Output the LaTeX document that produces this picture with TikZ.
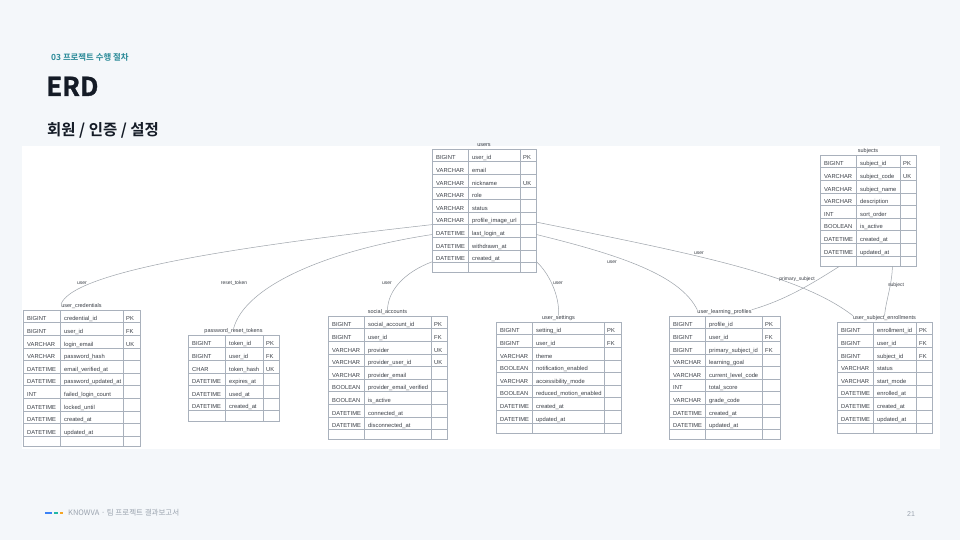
\documentclass[tikz,border=0pt]{standalone}
\usepackage{fontspec}
\setmainfont{Liberation Sans}
\newfontfamily\kr[BoldFont={Noto Sans CJK KR Bold}]{Noto Sans CJK KR}
\newfontfamily\krheavy[FakeBold=1.2]{Noto Sans CJK KR Bold}
\usetikzlibrary{calc}

\definecolor{slidebg}{HTML}{F4F7FA}
\definecolor{sectteal}{HTML}{2A8A98}
\definecolor{inkdark}{HTML}{141B26}
\definecolor{txtgray}{HTML}{3A3F47}
\definecolor{linegray}{HTML}{A9B1BC}
\definecolor{relgray}{HTML}{9DA3AA}
\definecolor{footgray}{HTML}{9AA3AE}
\definecolor{dashblue}{HTML}{3B82F6}
\definecolor{dashteal}{HTML}{22B8A6}
\definecolor{dashorange}{HTML}{F5A524}

\def\rh{12.6}
% one table: name, x of left / col1 / col2 / right, top, rows, title, fields
\newcommand{\erdtable}[9]{%
  \node[tblbox, minimum width={(#5-#2)*1pt}, minimum height={(#7+0.8)*\rh*1pt}] (#1box) at (#2,#6) {};
  \node[tbltitle] (#1) at ({(#2+#5)/2},#6-3.5) {#8};
  \draw[grid] (#3,#6) -- (#3,{#6+(#7+0.8)*\rh});
  \draw[grid] (#4,#6) -- (#4,{#6+(#7+0.8)*\rh});
  \foreach [count=\i] \ty/\fd/\ky in {#9} {
    \draw[grid] (#2,{#6+\i*\rh}) -- (#5,{#6+\i*\rh});
    \node[cell] (#1-\i-a) at (#2+4,{#6+\i*\rh-1.7}) {\ty};
    \node[cell] (#1-\i-b) at (#3+4,{#6+\i*\rh-1.7}) {\fd};
    \node[cell] (#1-\i-c) at (#4+3,{#6+\i*\rh-1.7}) {\ky};
  }%
}

\begin{document}
\begin{tikzpicture}[x=1pt, y=-1pt,
  tbltitle/.style = {font=\fontsize{5.5}{6}\selectfont, text=txtgray, inner sep=0pt},
  cell/.style = {font=\fontsize{5.8}{6}\selectfont, text=txtgray, inner sep=0pt, anchor=base west},
  tblbox/.style = {draw=linegray, line width=.5pt, fill=white, inner sep=0pt, anchor=north west},
  grid/.style = {draw=linegray, line width=.4pt},
  rel/.style = {draw=relgray, line width=.5pt},
  rellabel/.style = {font=\fontsize{5}{6}\selectfont, text=txtgray, inner sep=0pt}]
  \useasboundingbox (0,0) rectangle (960,540);
  \fill[slidebg] (0,0) rectangle (960,540);
  \fill[white] (22,146) rectangle (940,449);

  % header
  \node[anchor=base west, inner sep=0pt, text=sectteal, font=\kr\bfseries\fontsize{8.4}{9}\selectfont] (sect) at (51,61) {03 프로젝트 수행 절차};
  \node[anchor=base west, inner sep=0pt, text=inkdark, font=\krheavy\fontsize{26}{30}\selectfont] (erd) at (46,96) {ERD};
  \node[anchor=base west, inner sep=0pt, text=inkdark, font=\kr\bfseries\fontsize{15.5}{17}\selectfont] (topic) at (47,136) {회원 / 인증 / 설정};

  % tables
  \erdtable{users}{432}{468}{520}{536}{149}{9}{users}{BIGINT/user\_id/PK, VARCHAR/email/{}, VARCHAR/nickname/UK, VARCHAR/role/{}, VARCHAR/status/{}, VARCHAR/profile\_image\_url/{}, DATETIME/last\_login\_at/{}, DATETIME/withdrawn\_at/{}, DATETIME/created\_at/{}}
  \erdtable{subjects}{820}{856}{900}{916}{155}{8}{subjects}{BIGINT/subject\_id/PK, VARCHAR/subject\_code/UK, VARCHAR/subject\_name/{}, VARCHAR/description/{}, INT/sort\_order/{}, BOOLEAN/is\_active/{}, DATETIME/created\_at/{}, DATETIME/updated\_at/{}}
  \erdtable{ucred}{23}{60}{123}{140}{310}{10}{user\_credentials}{BIGINT/credential\_id/PK, BIGINT/user\_id/FK, VARCHAR/login\_email/UK, VARCHAR/password\_hash/{}, DATETIME/email\_verified\_at/{}, DATETIME/password\_updated\_at/{}, INT/failed\_login\_count/{}, DATETIME/locked\_until/{}, DATETIME/created\_at/{}, DATETIME/updated\_at/{}}
  \erdtable{prt}{188}{225}{263}{279}{335}{6}{password\_reset\_tokens}{BIGINT/token\_id/PK, BIGINT/user\_id/FK, CHAR/token\_hash/UK, DATETIME/expires\_at/{}, DATETIME/used\_at/{}, DATETIME/created\_at/{}}
  \erdtable{social}{328}{364}{431}{447}{316}{9}{social\_accounts}{BIGINT/social\_account\_id/PK, BIGINT/user\_id/FK, VARCHAR/provider/UK, VARCHAR/provider\_user\_id/UK, VARCHAR/provider\_email/{}, BOOLEAN/provider\_email\_verified/{}, BOOLEAN/is\_active/{}, DATETIME/connected\_at/{}, DATETIME/disconnected\_at/{}}
  \erdtable{uset}{496}{532}{604}{621}{322}{8}{user\_settings}{BIGINT/setting\_id/PK, BIGINT/user\_id/FK, VARCHAR/theme/{}, BOOLEAN/notification\_enabled/{}, VARCHAR/accessibility\_mode/{}, BOOLEAN/reduced\_motion\_enabled/{}, DATETIME/created\_at/{}, DATETIME/updated\_at/{}}
  \erdtable{ulp}{669}{705}{762}{780}{316}{9}{user\_learning\_profiles}{BIGINT/profile\_id/PK, BIGINT/user\_id/FK, BIGINT/primary\_subject\_id/FK, VARCHAR/learning\_goal/{}, VARCHAR/current\_level\_code/{}, INT/total\_score/{}, VARCHAR/grade\_code/{}, DATETIME/created\_at/{}, DATETIME/updated\_at/{}}
  \erdtable{usenr}{837}{873}{916}{932}{322}{8}{user\_subject\_enrollments}{BIGINT/enrollment\_id/PK, BIGINT/user\_id/FK, BIGINT/subject\_id/FK, VARCHAR/status/{}, VARCHAR/start\_mode/{}, DATETIME/enrolled\_at/{}, DATETIME/created\_at/{}, DATETIME/updated\_at/{}}

  % relations
  \draw[rel] ($(usersbox.north west)!.61!(usersbox.south west)$) .. controls (250,245) and (75,270) .. (ucred.north west);
  \draw[rel] ($(usersbox.north west)!.69!(usersbox.south west)$) .. controls (330,250) and (245,285) .. (prt.north);
  \draw[rel] ($(usersbox.north west)!.91!(usersbox.south west)$) .. controls (405,272) and (388,290) .. (social.north);
  \draw[rel] ($(usersbox.north east)!.91!(usersbox.south east)$) .. controls (548,272) and (560,295) .. (uset.north);
  \draw[rel] ($(usersbox.north east)!.69!(usersbox.south east)$) .. controls (620,255) and (680,275) .. (ulp.north west);
  \draw[rel] ($(usersbox.north east)!.59!(usersbox.south east)$) .. controls (700,255) and (800,275) .. (usenr.north west);
  \draw[rel] ($(subjectsbox.south west)!.2!(subjectsbox.south east)$) .. controls (810,285) and (785,300) .. (ulp.north east);
  \draw[rel] ($(subjectsbox.south west)!.75!(subjectsbox.south east)$) .. controls (892,285) and (886,300) .. (usenr.north);

  \node[rellabel] (l-cred) at (82,283) {user};
  \node[rellabel] (l-token) at (234,283) {reset\_token};
  \node[rellabel] (l-social) at (387,283) {user};
  \node[rellabel] (l-set) at (558,283) {user};
  \node[rellabel] (l-prof) at (612,262) {user};
  \node[rellabel] (l-enr) at (699,253) {user};
  \node[rellabel] (l-prim) at (797,279) {primary\_subject};
  \node[rellabel] (l-subj) at (896,285) {subject};

  % footer
  \draw[dashblue, line width=1.2pt] (45,513) -- (52,513);
  \draw[dashteal, line width=1.2pt] (54,513) -- (58,513);
  \draw[dashorange, line width=1.2pt] (60,513) -- (63,513);
  \node[anchor=west, inner sep=0pt, text=footgray, font=\kr\fontsize{7.5}{9}\selectfont] (foot) at (68,513) {KNOWVA · 팀 프로젝트 결과보고서};
  \node[inner sep=0pt, text=footgray, font=\fontsize{7}{8}\selectfont] (pageno) at (911,514) {21};
\end{tikzpicture}
\end{document}
